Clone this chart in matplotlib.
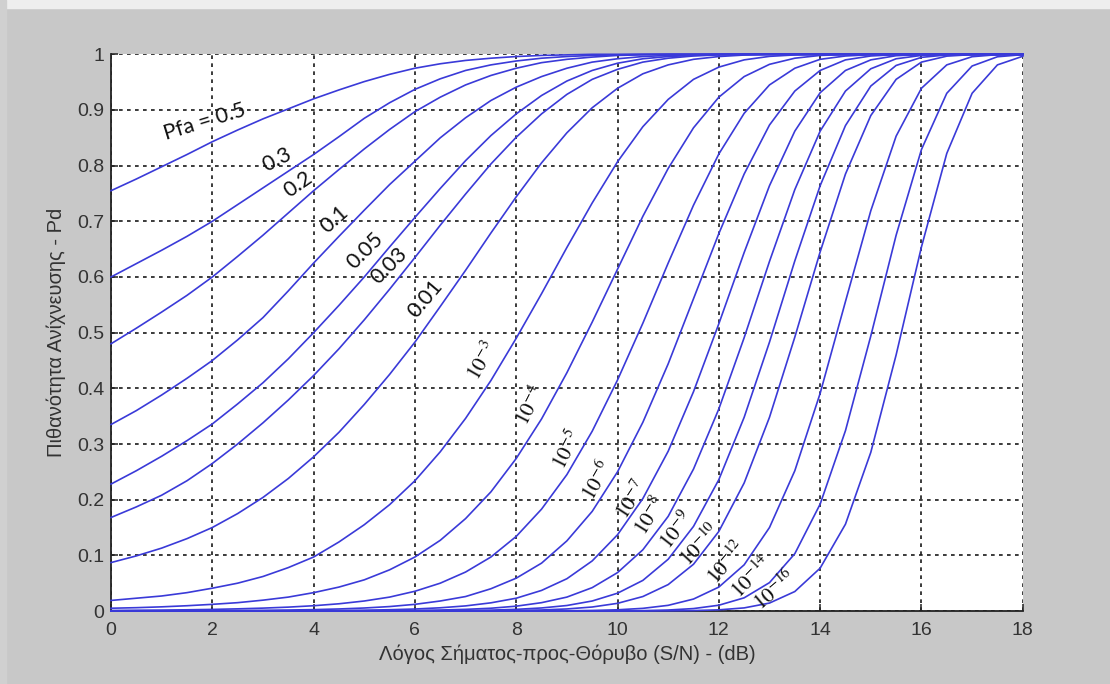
import numpy as np
import matplotlib
matplotlib.use('Agg')
from matplotlib import pyplot as plt
from matplotlib.patches import Rectangle

plt.rcParams['mathtext.fontset'] = 'stix'

# SNR grid in dB, values read every 0.5 dB
snr_db = np.arange(0, 18.5, 0.5)

pd_5e_1 = [0.755, 0.776, 0.798, 0.82, 0.843, 0.864, 0.884, 0.902, 0.92, 0.936,
           0.951, 0.964, 0.975, 0.983, 0.989, 0.993, 0.996, 0.998, 0.999,
           1, 1, 1, 1, 1, 1, 1, 1, 1, 1, 1, 1, 1, 1, 1, 1, 1, 1]
pd_3e_1 = [0.60, 0.624, 0.648, 0.673, 0.70, 0.73, 0.76, 0.79, 0.82, 0.852,
           0.885, 0.913, 0.937, 0.956, 0.971, 0.981, 0.988, 0.993, 0.996, 0.998,
           0.999, 1, 1, 1, 1, 1, 1, 1, 1, 1, 1, 1, 1, 1, 1, 1, 1]
pd_2e_1 = [0.48, 0.508, 0.537, 0.567, 0.60, 0.637, 0.675, 0.715, 0.755, 0.793,
           0.83, 0.865, 0.897, 0.923, 0.945, 0.962, 0.975, 0.985, 0.991, 0.995,
           0.998, 0.999, 1, 1, 1, 1, 1, 1, 1, 1, 1, 1, 1, 1, 1, 1, 1]
pd_1e_1 = [0.335, 0.36, 0.388, 0.418, 0.45, 0.487, 0.527, 0.575, 0.625, 0.673,
           0.72, 0.766, 0.808, 0.85, 0.886, 0.917, 0.941, 0.96, 0.975, 0.986,
           0.992, 0.996, 0.998, 0.999, 1, 1, 1, 1, 1, 1, 1, 1, 1, 1, 1, 1, 1]
pd_5e_2 = [0.228, 0.252, 0.278, 0.306, 0.336, 0.372, 0.41, 0.453, 0.50, 0.549,
           0.60, 0.654, 0.707, 0.759, 0.809, 0.854, 0.893, 0.926, 0.952, 0.971,
           0.984, 0.992, 0.996, 0.998, 0.9995, 1, 1, 1, 1, 1, 1, 1, 1, 1, 1, 1, 1]
pd_3e_2 = [0.168, 0.187, 0.208, 0.234, 0.265, 0.30, 0.338, 0.379, 0.423, 0.471,
           0.523, 0.578, 0.635, 0.693, 0.749, 0.803, 0.851, 0.893, 0.928, 0.955,
           0.973, 0.986, 0.993, 0.997, 0.999, 0.9996, 1, 1, 1, 1, 1, 1, 1, 1, 1, 1, 1]
pd_1e_2 = [0.087, 0.099, 0.113, 0.13, 0.15, 0.175, 0.204, 0.238, 0.277, 0.321,
           0.371, 0.425, 0.483, 0.547, 0.612, 0.679, 0.744, 0.805, 0.859, 0.904,
           0.939, 0.965, 0.981, 0.991, 0.996, 0.9987, 0.9996, 1, 1, 1, 1, 1, 1, 1, 1, 1, 1]
pd_1e_3 = [0.019, 0.023, 0.027, 0.033, 0.041, 0.050, 0.062, 0.078, 0.097, 0.124,
           0.155, 0.191, 0.234, 0.286, 0.346, 0.414, 0.49, 0.57, 0.653, 0.733,
           0.807, 0.87, 0.919, 0.955, 0.977, 0.990, 0.9963, 0.9989, 0.9997,
           1, 1, 1, 1, 1, 1, 1, 1]
pd_1e_4 = [0.005, 0.006, 0.0075, 0.0095, 0.012, 0.015, 0.0195, 0.025, 0.033, 0.043,
           0.056, 0.074, 0.097, 0.127, 0.166, 0.214, 0.274, 0.345, 0.428, 0.519,
           0.614, 0.709, 0.795, 0.868, 0.923, 0.960, 0.982, 0.993, 0.998, 0.9995,
           1, 1, 1, 1, 1, 1, 1]
pd_1e_5 = [0.001, 0.0014, 0.0017, 0.0022, 0.0029, 0.0039, 0.0052, 0.007, 0.0095, 0.013,
           0.018, 0.025, 0.0355, 0.05, 0.07, 0.097, 0.134, 0.183, 0.245, 0.323,
           0.415, 0.517, 0.625, 0.729, 0.821, 0.894, 0.945, 0.975, 0.991, 0.997,
           0.9993, 1, 1, 1, 1, 1, 1]
pd_1e_6 = [0.0002, 0.0003, 0.0004, 0.0005, 0.0007, 0.001, 0.0013, 0.0018, 0.0025, 0.0037,
           0.0054, 0.008, 0.012, 0.018, 0.026, 0.040, 0.059, 0.086, 0.126, 0.179,
           0.25, 0.339, 0.444, 0.561, 0.678, 0.785, 0.873, 0.934, 0.971, 0.990,
           0.997, 0.9994, 1, 1, 1, 1, 1]
pd_1e_7 = [0, 0, 0.0001, 0.0001, 0.0001, 0.0002, 0.0003, 0.0004, 0.0006, 0.001,
           0.0015, 0.0023, 0.0036, 0.0058, 0.0092, 0.0147, 0.023, 0.037, 0.058, 0.090,
           0.137, 0.202, 0.287, 0.394, 0.516, 0.644, 0.764, 0.862, 0.931, 0.971,
           0.990, 0.9975, 0.9995, 1, 1, 1, 1]
pd_1e_8 = [0, 0, 0, 0, 0, 0, 0, 0, 0, 0,
           0.0004, 0.0006, 0.0011, 0.0018, 0.003, 0.005, 0.0087, 0.015, 0.025, 0.042,
           0.069, 0.11, 0.17, 0.255, 0.363, 0.491, 0.628, 0.757, 0.862, 0.934,
           0.974, 0.992, 0.998, 0.9997, 1, 1, 1]
pd_1e_9 = [0, 0, 0, 0, 0, 0, 0, 0, 0, 0, 0, 0,
           0.0003, 0.0005, 0.0009, 0.0016, 0.003, 0.0055, 0.0099, 0.018, 0.032, 0.055,
           0.093, 0.152, 0.236, 0.348, 0.483, 0.629, 0.764, 0.872, 0.943, 0.98,
           0.9945, 0.9989, 0.9999, 1, 1]
pd_1e_10 = [0, 0, 0, 0, 0, 0, 0, 0, 0, 0, 0, 0, 0,
            0.0001, 0.0003, 0.0005, 0.001, 0.0019, 0.0037, 0.0072, 0.0138, 0.026,
            0.0475, 0.084, 0.143, 0.23, 0.348, 0.492, 0.645, 0.785, 0.89, 0.955,
            0.986, 0.9967, 0.9995, 1, 1]
pd_1e_12 = [0, 0, 0, 0, 0, 0, 0, 0, 0, 0, 0, 0, 0, 0, 0, 0,
            0.0001, 0.0002, 0.0004, 0.001, 0.0022, 0.0048, 0.0102, 0.0215, 0.043,
            0.083, 0.15, 0.252, 0.391, 0.556, 0.719, 0.853, 0.939, 0.981, 0.9957,
            0.9994, 1]
pd_1e_14 = [0, 0, 0, 0, 0, 0, 0, 0, 0, 0, 0, 0, 0, 0, 0, 0, 0, 0, 0,
            0.0001, 0.0003, 0.0007, 0.0018, 0.0044, 0.0104, 0.0237, 0.051, 0.103,
            0.192, 0.324, 0.494, 0.675, 0.829, 0.93, 0.979, 0.9956, 0.9994]
pd_1e_16 = [0, 0, 0, 0, 0, 0, 0, 0, 0, 0, 0, 0, 0, 0, 0, 0, 0, 0, 0, 0, 0, 0,
            0.0003, 0.0008, 0.0021, 0.0056, 0.0143, 0.035, 0.077, 0.156, 0.285,
            0.46, 0.654, 0.822, 0.93, 0.981, 0.9965]

curves = [pd_5e_1, pd_3e_1, pd_2e_1, pd_1e_1, pd_5e_2, pd_3e_2, pd_1e_2,
          pd_1e_3, pd_1e_4, pd_1e_5, pd_1e_6, pd_1e_7, pd_1e_8, pd_1e_9,
          pd_1e_10, pd_1e_12, pd_1e_14, pd_1e_16]

pfa_labels = ['Pfa = 0.5', '0.3', '0.2', '0.1', '0.05', '0.03', '0.01',
              r'$10^{-3}$', r'$10^{-4}$', r'$10^{-5}$', r'$10^{-6}$', r'$10^{-7}$',
              r'$10^{-8}$', r'$10^{-9}$', r'$10^{-10}$', r'$10^{-12}$',
              r'$10^{-14}$', r'$10^{-16}$']

# where each label sits (data coords) and its angle on screen
lab_x = [1.86, 3.28, 3.69, 4.42, 5.01, 5.5, 6.2, 7.33, 8.27, 9.0, 9.6, 10.27,
         10.64, 11.17, 11.63, 12.16, 12.65, 13.1]
lab_y = [0.878, 0.81, 0.767, 0.704, 0.648, 0.62, 0.56, 0.45, 0.37, 0.289, 0.235,
         0.199, 0.172, 0.145, 0.118, 0.088, 0.061, 0.038]
lab_rot = [17, 27, 35, 42, 45, 45, 50, 60, 63, 63, 60, 57, 58, 52, 47, 50, 46, 40]

fig = plt.figure(figsize=(11.1, 6.84), dpi=100, facecolor='#c8c8c8')
fig.patches.append(Rectangle((0, 1 - 8/684.), 1, 8/684., transform=fig.transFigure,
                             color='#eeeeee', zorder=-1))
fig.patches.append(Rectangle((0, 0), 6/1110., 1, transform=fig.transFigure,
                             color='#d0d0d0', zorder=-1))
ax = fig.add_axes([0.1, 0.1067, 0.8214, 0.8139])
ax.set_facecolor('white')

for pd in curves:
    ax.plot(snr_db, pd, color='#3a3ad8', linewidth=1.2, clip_on=False, zorder=3)

for txt, x, y, r in zip(pfa_labels, lab_x, lab_y, lab_rot):
    if txt.startswith('$'):
        ax.text(x, y, txt, fontsize=15.5, rotation=r, rotation_mode='anchor',
                ha='center', va='center', color='#111111', zorder=4)
    else:
        ax.text(x, y, txt, fontsize=15.5, family='Lato', rotation=r,
                rotation_mode='anchor', ha='center', va='center',
                color='#111111', zorder=4)

ax.set_xlim(0, 18)
ax.set_ylim(0, 1)
ax.set_xticks(np.arange(0, 19, 2))
ax.set_yticks(np.arange(0, 1.01, 0.1))
ax.set_yticklabels(['0', '0.1', '0.2', '0.3', '0.4', '0.5', '0.6', '0.7', '0.8', '0.9', '1'])
ax.grid(True, color='#1a1a1a', linestyle=(0, (2.2, 2.6)), linewidth=1.2)
ax.set_axisbelow(True)
for s in ['top', 'right']:
    ax.spines[s].set_visible(False)
for s in ['left', 'bottom']:
    ax.spines[s].set_linewidth(1.3)
    ax.spines[s].set_color('#222222')
ax.tick_params(direction='in', length=5, width=1.1, colors='#222222',
               labelsize=14, labelcolor='#333333')
ax.tick_params(axis='x', pad=8)
ax.tick_params(axis='y', pad=5)
for lab in ax.get_xticklabels() + ax.get_yticklabels():
    lab.set_family('Liberation Sans')

ax.set_xlabel('Λόγος Σήματος-προς-Θόρυβο (S/N) - (dB)', fontsize=14.5,
              family='Liberation Sans', color='#333333', labelpad=4)
ax.set_ylabel('Πιθανότητα Ανίχνευσης - Pd', fontsize=14.5,
              family='Liberation Sans', color='#333333', labelpad=8)

fig.savefig('out.png', dpi=100, facecolor=fig.get_facecolor())
plt.close('all')
